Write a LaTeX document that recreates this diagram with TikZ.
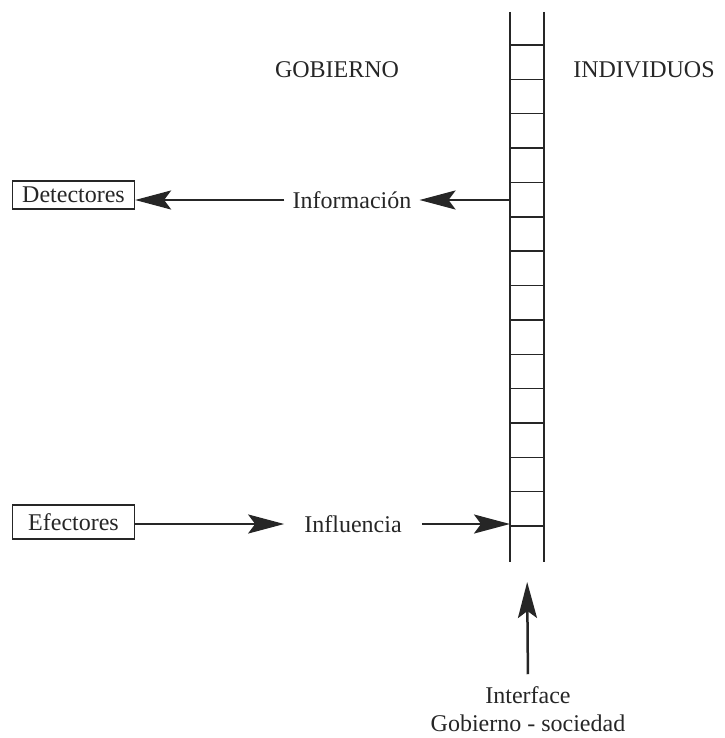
\documentclass[tikz,border=0pt]{standalone}
\usepackage{fontspec}
\setmainfont{Liberation Serif}
\usetikzlibrary{arrows.meta,positioning}

\tikzset{
  caja/.style={draw, line width=1.2pt, minimum width=122pt, inner sep=0pt},
  flecha/.style={line width=2.5pt, -{Stealth[length=36pt,width=19pt,inset=7pt]}},
  riel/.style={line width=2.6pt},
  peldano/.style={line width=1.4pt},
}

\begin{document}
\begin{tikzpicture}[x=1pt,y=-1pt,font=\fontsize{24}{28}\selectfont,color=black!85]
\useasboundingbox (0,0) rectangle (724,738);

% escalera (interface)
\draw[riel] (510,12) -- (510,562);
\draw[riel] (544,12) -- (544,562);
\foreach \k in {0,...,14}
  \draw[peldano] (510,45+34.36*\k) -- (544,45+34.36*\k);
\coordinate (pie) at (527,562);
\coordinate (ent) at (510,200);
\coordinate (sal) at (510,524);

\node (gob) at (337,70) {GOBIERNO};
\node (indiv) at (644,70) {INDIVIDUOS};

\node[caja, minimum height=28pt] (det) at (73.5,195) {Detectores};
\node[caja, minimum height=34pt] (efe) at (73.5,522) {Efectores};

\node[inner sep=8pt] (info) at (352,200) {Información};
\node[inner sep=20pt] (infl) at (353,524) {Influencia};

\draw[flecha] (ent) -- (info.east);
\draw[flecha] (info.west) -- (info.west -| det.east);
\draw[flecha] (efe.east |- infl.west) -- (infl.west);
\draw[flecha] (infl.east) -- (sal);

\node[align=center, inner sep=2pt] (iface) at (528,709) {Interface\\Gobierno - sociedad};
\draw[flecha, shorten <=10pt, shorten >=20pt] (iface.north) -- (pie);
\end{tikzpicture}
\end{document}
